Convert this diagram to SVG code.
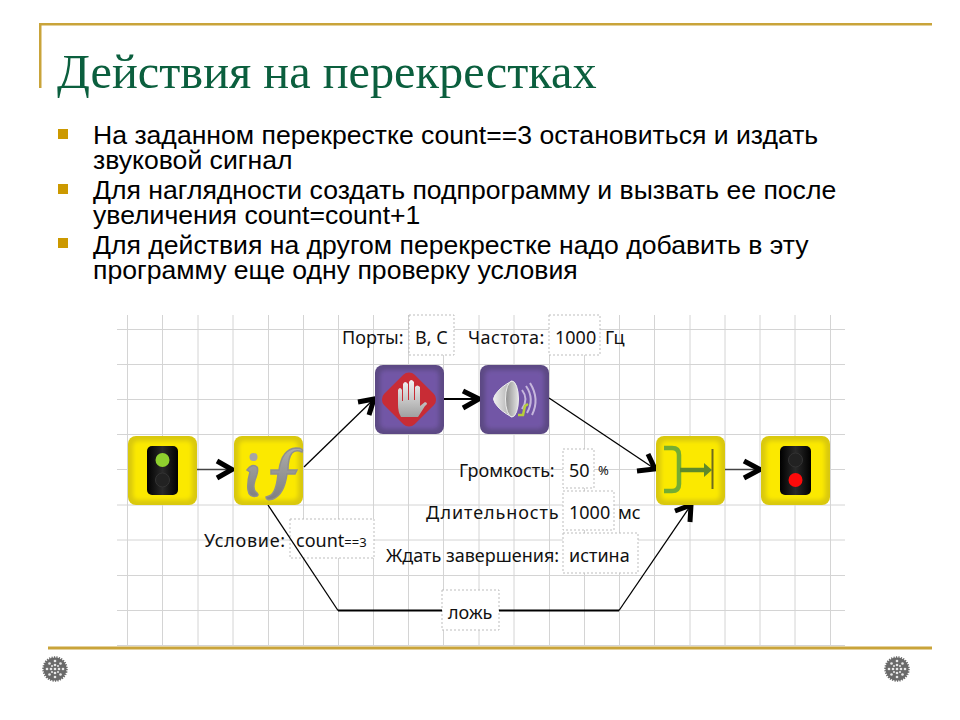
<svg xmlns="http://www.w3.org/2000/svg" width="960" height="720" viewBox="0 0 960 720">
<style>
.title{font:48.300px "Liberation Serif",serif;fill:#0b5f3e}
.body{font:26.600px "Liberation Sans",Arial,sans-serif;fill:#000}
.lab{font:18px "Noto Sans","Liberation Sans",sans-serif;fill:#111}
.box{fill:#fff;stroke:#bdbdbd;stroke-width:1;stroke-dasharray:2 2}
.grid line{stroke:#d4d4d4;stroke-width:1}
.rule{fill:#c9a43a}
.y{fill:#d9c80e}
.yi{fill:#fbe900;filter:url(#soft)}
.p{fill:#5c4984}
.pi{fill:#7256a6;filter:url(#soft)}
.conn{fill:none;stroke:#000;stroke-width:1.300}
.thick{fill:none;stroke:#000;stroke-width:2}
.soft{fill:none;stroke:#444;stroke-width:1.300}
.head{fill:none;stroke:#000;stroke-width:5}
.lamp{fill:url(#blk)}
.gear{fill:#6a6a6a;stroke:#6a6a6a;stroke-width:2.500;stroke-dasharray:1.200 1.200}
.gd{fill:#e8e8e8}
</style>
<defs>
<filter id="soft" x="-20%" y="-20%" width="140%" height="140%"><feGaussianBlur stdDeviation="2"/></filter>
<linearGradient id="blk" x1="0" y1="0" x2="1" y2="0"><stop offset="0" stop-color="#000"/><stop offset=".5" stop-color="#2a2a2a"/><stop offset="1" stop-color="#000"/></linearGradient>
<linearGradient id="gr" x1="0" y1="0" x2="0" y2="1"><stop offset="0" stop-color="#f2f2f2"/><stop offset="1" stop-color="#a0a0a0"/></linearGradient>
<linearGradient id="sp" x1="0" y1="0" x2="1" y2="0"><stop offset="0" stop-color="#f0f0f0"/><stop offset="1" stop-color="#a8a8a8"/></linearGradient>
<linearGradient id="sp2" x1="0" y1="0" x2="1" y2="0"><stop offset="0" stop-color="#8e8e8e"/><stop offset="1" stop-color="#e4e4e4"/></linearGradient>
<linearGradient id="ifg" x1="0" y1="0" x2="0" y2="1"><stop offset="0" stop-color="#ababab"/><stop offset="1" stop-color="#7f7f7f"/></linearGradient>
<g id="gearIcon"><circle r="11.500" class="gear"/><g class="gd"><circle cx="0" cy="-8" r="1.300"/><circle cx="0" cy="-4" r="1.300"/><circle cx="0" cy="0" r="1.300"/><circle cx="0" cy="4" r="1.300"/><circle cx="0" cy="8" r="1.300"/><circle cx="-8" cy="0" r="1.300"/><circle cx="-4" cy="0" r="1.300"/><circle cx="4" cy="0" r="1.300"/><circle cx="8" cy="0" r="1.300"/><circle cx="-5.500" cy="-5.500" r="1.300"/><circle cx="5.500" cy="-5.500" r="1.300"/><circle cx="-5.500" cy="5.500" r="1.300"/><circle cx="5.500" cy="5.500" r="1.300"/><circle cx="-3" cy="-3" r="1"/><circle cx="3" cy="-3" r="1"/><circle cx="-3" cy="3" r="1"/><circle cx="3" cy="3" r="1"/></g></g>
</defs>

<rect class="rule" x="39" y="23" width="893" height="2.500"/>
<rect class="rule" x="39" y="23" width="2.500" height="65"/>
<rect class="rule" x="48" y="646.500" width="884" height="3"/>
<text class="title" x="57" y="88">Действия на перекрестках</text>

<g id="bullets" fill="#cc9900"><rect x="58" y="129" width="10" height="10"/><rect x="58" y="184" width="10" height="10"/><rect x="58" y="238" width="10" height="10"/></g>
<text class="body" x="93" y="143.500">На заданном перекрестке count==3 остановиться и издать</text>
<text class="body" x="93" y="169">звуковой сигнал</text>
<text class="body" x="93" y="198.500">Для наглядности создать подпрограмму и вызвать ее после</text>
<text class="body" x="93" y="224">увеличения count=count+1</text>
<text class="body" x="93" y="253.500">Для действия на другом перекрестке надо добавить в эту</text>
<text class="body" x="93" y="279">программу еще одну проверку условия</text>

<g class="grid">
<line x1="127.500" y1="315" x2="127.500" y2="646"/><line x1="162.500" y1="315" x2="162.500" y2="646"/><line x1="198" y1="315" x2="198" y2="646"/><line x1="233" y1="315" x2="233" y2="646"/><line x1="268.500" y1="315" x2="268.500" y2="646"/><line x1="303.500" y1="315" x2="303.500" y2="646"/><line x1="338.500" y1="315" x2="338.500" y2="646"/><line x1="373.500" y1="315" x2="373.500" y2="646"/><line x1="408.500" y1="315" x2="408.500" y2="646"/><line x1="443.500" y1="315" x2="443.500" y2="646"/><line x1="479" y1="315" x2="479" y2="646"/><line x1="514" y1="315" x2="514" y2="646"/><line x1="549.500" y1="315" x2="549.500" y2="646"/><line x1="584.500" y1="315" x2="584.500" y2="646"/><line x1="619.500" y1="315" x2="619.500" y2="646"/><line x1="654.500" y1="315" x2="654.500" y2="646"/><line x1="690" y1="315" x2="690" y2="646"/><line x1="725" y1="315" x2="725" y2="646"/><line x1="760" y1="315" x2="760" y2="646"/><line x1="795" y1="315" x2="795" y2="646"/><line x1="830.500" y1="315" x2="830.500" y2="646"/>
<line x1="117" y1="329.500" x2="845" y2="329.500"/><line x1="117" y1="364.500" x2="845" y2="364.500"/><line x1="117" y1="399.500" x2="845" y2="399.500"/><line x1="117" y1="434.500" x2="845" y2="434.500"/><line x1="117" y1="469.500" x2="845" y2="469.500"/><line x1="117" y1="505" x2="845" y2="505"/><line x1="117" y1="540" x2="845" y2="540"/><line x1="117" y1="575.500" x2="845" y2="575.500"/><line x1="117" y1="610.500" x2="845" y2="610.500"/><line x1="117" y1="645.500" x2="845" y2="645.500"/>
</g>

<g id="params">
<rect class="box" x="409" y="315" width="45" height="40"/><text class="lab" x="342" y="344">Порты:</text><text class="lab" x="415" y="344">В, С</text>
<text class="lab" x="468" y="344" letter-spacing=".5">Частота:</text><rect class="box" x="549" y="315" width="51" height="40"/><text class="lab" x="555" y="344">1000</text><text class="lab" x="605" y="344">Гц</text>
<text class="lab" x="459" y="477">Громкость:</text><rect class="box" x="563" y="449" width="31" height="39"/><text class="lab" x="569" y="477">50</text><text class="lab" x="598" y="475" style="font-size:13px">%</text>
<text class="lab" x="426" y="519" letter-spacing=".9">Длительность</text><rect class="box" x="563" y="491" width="51" height="39"/><text class="lab" x="569" y="519">1000</text><text class="lab" x="618" y="519">мс</text>
<text class="lab" x="386" y="562">Ждать завершения:</text><rect class="box" x="563" y="533" width="75" height="40"/><text class="lab" x="569" y="562">истина</text>
<text class="lab" x="204" y="547" letter-spacing=".7">Условие:</text><rect class="box" x="290" y="519" width="84" height="39"/><text class="lab" x="296" y="547">count<tspan style="font-size:13px">==3</tspan></text>
<rect class="box" x="442" y="590" width="57" height="40"/><text class="lab" x="448" y="619">ложь</text>
</g>

<g id="connectors">
<path class="soft" d="M197 469.500H232"/><path class="head" d="M217 461L232 469.500L217 478"/>
<path class="conn" d="M304 467L374 399"/><path class="head" d="M358 402L374 399L369 415"/>
<path class="thick" d="M444 399H479"/><path class="head" d="M463 391L479 399L463 408"/>
<path class="conn" d="M549 398L655 469"/><path class="head" d="M637 471L655 469L648 454"/>
<path class="soft" d="M725 469.500H760"/><path class="head" d="M744 461L760 469.500L744 478"/>
<path class="conn" d="M268 505L338 610.500"/><path class="thick" d="M338 610.500H442M499 610.500H619"/><path class="conn" d="M619 610.500L691 505"/><path class="head" d="M675 511L691 505L690 522"/>
</g>

<g id="node-start"><rect class="y" x="128" y="436" width="69" height="69" rx="8"/><rect class="yi" x="133" y="441" width="59" height="59" rx="5"/><rect class="lamp" x="147" y="446" width="31" height="49" rx="5"/><circle cx="162.500" cy="460" r="7" fill="#8fd12e"/><circle cx="162.500" cy="480" r="7" fill="#222" stroke="#333"/></g>
<g id="node-if"><rect class="y" x="234" y="436" width="69" height="69" rx="8"/><rect class="yi" x="239" y="441" width="59" height="59" rx="5"/>
<path fill="url(#ifg)" stroke="#8f8f8f" stroke-width="1.500" d="M247 470Q252 463 257 467Q259 470 255 480Q252 490 257 493Q259 495 257 496Q249 498 248 490Q247 482 250 472ZM269 496Q276 494 278 474H271V470H279Q282 449 296 448Q304 448 302 452Q296 449 292 453Q288 458 288 470H297L295 474H287Q284 495 273 499Q266 501 266 497Z"/><circle cx="253.500" cy="457" r="4" fill="#a5a5a5"/></g>
<g id="node-stop"><rect class="p" x="375" y="365" width="69" height="69" rx="8"/><rect class="pi" x="380" y="370" width="59" height="59" rx="5"/><rect x="387.500" y="378" width="43" height="43" rx="8" fill="#c82c35" transform="rotate(45 409 399.500)"/>
<path fill="url(#gr)" d="M398 390Q400 386 402 390V401H403V384Q405 380 408 384V400H409V382Q411 378 414 382V400H415V387Q417 384 420 387V406L425 402Q429 403 425 406L418 417H401Q398 412 398 405Z"/></g>
<g id="node-sound"><rect class="p" x="480" y="365" width="69" height="69" rx="8"/><rect class="pi" x="485" y="370" width="59" height="59" rx="5"/>
<path fill="url(#sp)" stroke="#eee" stroke-width="1" d="M512 381Q500 387 495 395Q492 399 495 403Q500 411 512 417Z"/><ellipse cx="512" cy="399" rx="6.500" ry="18" fill="url(#sp2)" stroke="#eee"/>
<path fill="none" stroke="#c6b7dc" stroke-width="2" d="M522 390Q529 399 522 409M526 386Q535 399 527 413M530 383Q540 399 532 415"/>
<path fill="none" stroke="#b7cf3a" stroke-width="2.500" d="M518 415H523L525 406L528 404"/></g>
<g id="node-join"><rect class="y" x="656" y="436" width="69" height="69" rx="8"/><rect class="yi" x="661" y="441" width="59" height="59" rx="5"/>
<path fill="none" stroke="#74ad33" stroke-width="4.500" d="M664 448H672Q679 448 679 455V484Q679 491 672 491H664"/>
<path fill="none" stroke="#5e8a2a" stroke-width="4.500" d="M680 470H706"/><path fill="#5e8a2a" d="M704 463L712 470L704 477Z"/><path stroke="#6e6a1e" stroke-width="2" d="M712.500 449V489"/></g>
<g id="node-end"><rect class="y" x="761" y="436" width="69" height="69" rx="8"/><rect class="yi" x="766" y="441" width="59" height="59" rx="5"/><rect class="lamp" x="780" y="446" width="31" height="49" rx="5"/><circle cx="795.500" cy="460" r="7" fill="#222" stroke="#333"/><circle cx="795.500" cy="480" r="7" fill="#ff0a0a"/></g>

<g id="gears"><use href="#gearIcon" x="55" y="669"/><use href="#gearIcon" x="897" y="669"/></g>
</svg>
